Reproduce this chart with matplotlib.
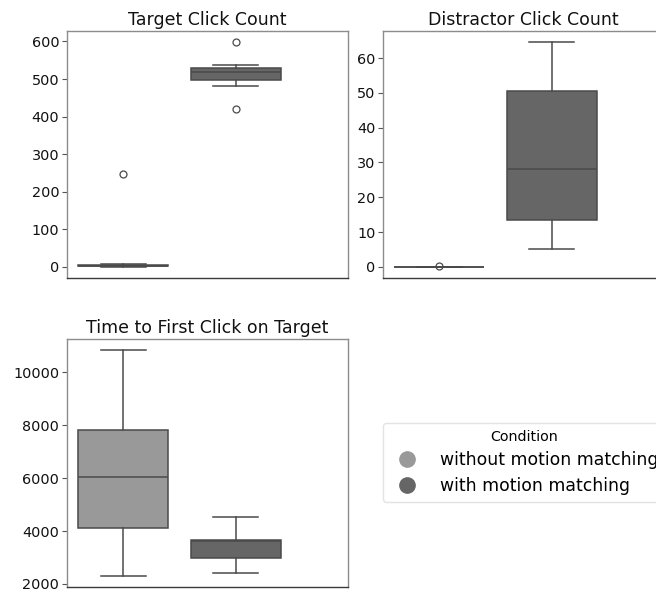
import matplotlib
matplotlib.use("Agg")
import matplotlib.pyplot as plt
from matplotlib.lines import Line2D

# ---- data (box statistics) ----
conditions = ["without motion matching", "with motion matching"]
colors = ["#999999", "#666666"]

titles = ["Target Click Count", "Distractor Click Count", "Time to First Click on Target"]

# per panel: [without, with]
whislo = [[0, 481], [0, 5.0], [2310, 2395]]
q1 = [[1, 498], [0, 13.5], [4130, 2990]]
med = [[3, 518], [0, 28.0], [6050, 3620]]
q3 = [[6, 529], [0, 50.7], [7840, 3680]]
whishi = [[8, 538], [0, 64.6], [10840, 4530]]
fliers = [[[246], [598, 420]], [[0.33], []], [[], []]]

yticks = [[0, 100, 200, 300, 400, 500, 600],
          [0, 10, 20, 30, 40, 50, 60],
          [2000, 4000, 6000, 8000, 10000]]

W, H = 656, 589
fig = plt.figure(figsize=(W / 100, H / 100), dpi=100)

def px_axes(left, top, right, bottom):
    return fig.add_axes([left / W, 1 - bottom / H, (right - left) / W, (bottom - top) / H])

axes = [px_axes(67, 31, 348, 278), px_axes(383, 31, 664, 278), px_axes(67, 339, 348, 587)]

edge = "#4a4a4a"
for k, ax in enumerate(axes):
    stats = []
    for j in range(2):
        stats.append(dict(whislo=whislo[k][j], q1=q1[k][j], med=med[k][j], q3=q3[k][j],
                          whishi=whishi[k][j], fliers=fliers[k][j]))
    bp = ax.bxp(stats, positions=[-0.2, 0.2], widths=0.32, patch_artist=True,
                boxprops=dict(edgecolor=edge, linewidth=1.1),
                whiskerprops=dict(color=edge, linewidth=1.1),
                capprops=dict(color=edge, linewidth=1.1),
                medianprops=dict(color=edge, linewidth=1.1),
                flierprops=dict(marker="o", markerfacecolor="none", markeredgecolor=edge,
                                markersize=5, markeredgewidth=0.9))
    for patch, c in zip(bp["boxes"], colors):
        patch.set_facecolor(c)
    ax.set_xlim(-0.4, 0.6)
    ax.set_xticks([])
    ax.set_yticks(yticks[k])
    ax.tick_params(axis="y", labelsize=10.4, length=3.5, width=0.8, color="#555555",
                   labelcolor="#111111", pad=2)
    ax.set_title(titles[k], fontsize=12.5, color="#111111", pad=4)
    for s in ["left", "top", "right"]:
        ax.spines[s].set_color("#8c8c8c")
        ax.spines[s].set_linewidth(1.0)
    ax.spines["bottom"].set_color("#3a3a3a")
    ax.spines["bottom"].set_linewidth(1.0)

handles = [Line2D([], [], linestyle="none", marker="o", markersize=11,
                  markerfacecolor=c, markeredgecolor=c) for c in colors]
fig.legend(handles, conditions, title="Condition", loc="upper left",
           bbox_to_anchor=(383 / W, 1 - 423 / H), borderaxespad=0,
           fontsize=12.4, title_fontsize=10.3,
           frameon=True, edgecolor="#dddddd", handletextpad=0.9, borderpad=0.4,
           labelspacing=0.44)

fig.savefig("out.png", dpi=100)
